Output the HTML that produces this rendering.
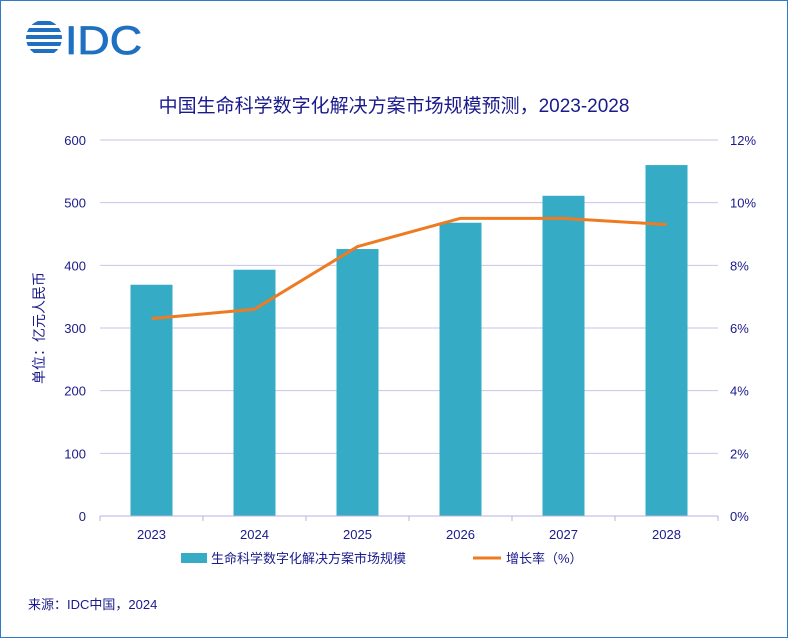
<!DOCTYPE html>
<html><head><meta charset="utf-8"><style>
body{margin:0;width:788px;height:638px;overflow:hidden;background:#fff;font-family:"Liberation Sans","Noto Sans CJK SC",sans-serif}
#frame{position:absolute;left:0;top:0;width:786px;height:636px;border:1px solid #2f7bc4;}
svg{position:absolute;left:0;top:0}
</style></head><body>
<div id="frame"></div>
<svg width="788" height="638" id="chart">
<g>
<clipPath id="lc"><circle cx="44" cy="38" r="18"/></clipPath>
<g clip-path="url(#lc)" fill="#1f70c1">
<rect x="26" y="21" width="36" height="4"/><rect x="26" y="28" width="36" height="4"/><rect x="26" y="35" width="36" height="4"/><rect x="26" y="42" width="36" height="4"/><rect x="26" y="49" width="36" height="4"/>
</g>
<text x="65" y="54" font-size="40" fill="#1f70c1" stroke="#1f70c1" stroke-width="0.8" textLength="77" lengthAdjust="spacingAndGlyphs" font-family="Liberation Sans, sans-serif">IDC</text>
</g>
<text x="394" y="112" text-anchor="middle" font-size="19" fill="#1a1a8c">中国生命科学数字化解决方案市场规模预测，2023-2028</text>
<g id="grid"></g><g id="bars"></g><g id="line"></g><g id="axes"></g>
<text transform="translate(44,328) rotate(-90)" text-anchor="middle" font-size="14" fill="#1a1a8c">单位：亿元人民币</text>
<g>
<rect x="181" y="553" width="26" height="10" fill="#35abc5"/>
<text x="211" y="563" font-size="13" fill="#1a1a8c">生命科学数字化解决方案市场规模</text></g>
<g>
<line x1="473" y1="558" x2="501" y2="558" stroke="#ee7b22" stroke-width="3"/>
<text x="506" y="563" font-size="13" fill="#1a1a8c">增长率（%）</text></g>
<text x="28" y="609" font-size="13" fill="#1a1a8c">来源：IDC中国，2024</text>
</svg>
<script>
const categories=["2023","2024","2025","2026","2027","2028"];
const marketSize=[369,393,426,468,511,560];
const growthRate=[6.3,6.6,8.6,9.5,9.5,9.3];
const leftTicks=[0,100,200,300,400,500,600];
const rightTicks=[0,2,4,6,8,10,12];
const NS="http://www.w3.org/2000/svg";
const X0=100,X1=718,Y0=516,Y1=140;
const band=(X1-X0)/categories.length;
const xc=i=>X0+band*(i+0.5);
const yL=v=>Y0-(v/600)*(Y0-Y1);
const yR=v=>Y0-(v/12)*(Y0-Y1);
function mk(tag,attrs,parent,txt){const e=document.createElementNS(NS,tag);for(const k in attrs)e.setAttribute(k,attrs[k]);if(txt!==undefined)e.textContent=txt;document.getElementById(parent).appendChild(e);return e;}
leftTicks.forEach((t,i)=>{
 if(t>0){const g=mk('line',{x1:X0,x2:X1,y1:yL(t),y2:yL(t),stroke:'#c9c2ea','stroke-width':1},'grid');
 
 }
 const l=mk('text',{x:X0-14,y:yL(t)+5,'text-anchor':'end','font-size':13,fill:'#1a1a8c'},'axes',t);
 
 
});
rightTicks.forEach(t=>{
 const l=mk('text',{x:X1+12,y:yR(t)+5,'font-size':13,fill:'#1a1a8c'},'axes',t+'%');
 
 
});
const ax=mk('line',{x1:X0,x2:X1,y1:Y0,y2:Y0,stroke:'#b8b0e0'},'axes');


for(let i=0;i<=categories.length;i++){const tk=mk('line',{x1:X0+band*i,x2:X0+band*i,y1:Y0,y2:Y0+5,stroke:'#b8b0e0'},'axes');
 
 }
categories.forEach((c,i)=>{
 const b=mk('rect',{x:xc(i)-21,width:42,y:yL(marketSize[i]),height:Y0-yL(marketSize[i]),fill:'#35abc5'},'bars');
 
 
 const l=mk('text',{x:xc(i),y:Y0+23,'text-anchor':'middle','font-size':13,fill:'#1a1a8c'},'axes',c);
 
 
});
const pl=mk('polyline',{points:growthRate.map((v,i)=>xc(i)+','+yR(v)).join(' '),fill:'none',stroke:'#ee7b22','stroke-width':3,'stroke-linejoin':'round'},'line');


</script>
</body></html>
